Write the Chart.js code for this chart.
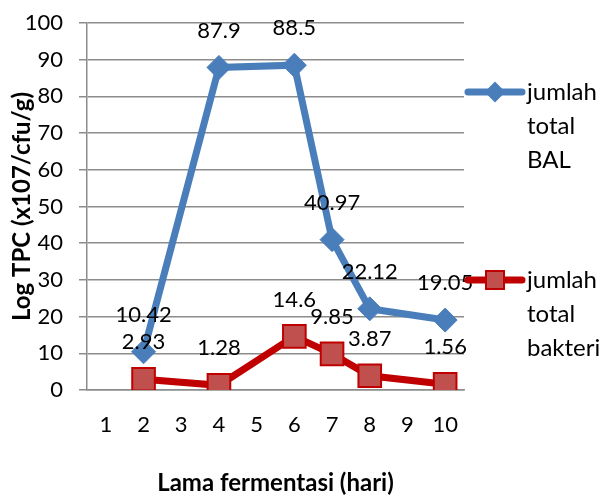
<!DOCTYPE html>
<html>
<head>
<meta charset="utf-8">
<script src="https://cdn.jsdelivr.net/npm/chart.js@4/dist/chart.umd.min.js"></script>
<style>
  html, body { margin: 0; padding: 0; background: #fff; }
  #wrap { width: 605px; height: 498px; }
</style>
</head>
<body>
<div id="wrap"><canvas id="tpcChart" width="605" height="498"></canvas></div>
<script>
// data
const days = ['1', '2', '3', '4', '5', '6', '7', '8', '9', '10'];
const totalBAL = [null, 10.42, null, 87.9, null, 88.5, 40.97, 22.12, null, 19.05];
const totalBakteri = [null, 2.93, null, 1.28, null, 14.6, 9.85, 3.87, null, 1.56];
const seriesNames = [['jumlah', 'total', 'BAL'], ['jumlah', 'total', 'bakteri']];

const FONT = 'Lato, "Open Sans", sans-serif';
const BLUE = '#4a7ebb';
const RED = '#c00000';
const RED_FILL = '#c0504d';
const GRID = '#8c8c8c';

// value labels above each point
const valueLabels = {
  id: 'valueLabels',
  afterDatasetsDraw(chart) {
    const c = chart.ctx;
    c.save();
    c.font = '22px ' + FONT;
    c.fillStyle = '#000';
    c.textAlign = 'center';
    c.textBaseline = 'middle';
    chart.data.datasets.forEach((ds, i) => {
      chart.getDatasetMeta(i).data.forEach((pt, j) => {
        if (ds.data[j] == null) return;
        c.fillText(String(ds.data[j]), pt.x, pt.y - 37);
      });
    });
    c.restore();
  }
};

// legend on the right, text wrapped like the original
const sideLegend = {
  id: 'sideLegend',
  afterDraw(chart) {
    const c = chart.ctx;
    const rows = [92, 280];
    c.save();
    chart.data.datasets.forEach((ds, i) => {
      const y = rows[i];
      c.strokeStyle = ds.borderColor;
      c.lineWidth = 7;
      c.lineCap = 'round';
      c.beginPath();
      c.moveTo(468, y);
      c.lineTo(522, y);
      c.stroke();
      c.fillStyle = ds.pointBackgroundColor;
      c.strokeStyle = ds.pointBorderColor;
      c.lineWidth = 2;
      c.beginPath();
      if (i === 0) {
        c.moveTo(495, y - 9); c.lineTo(504, y); c.lineTo(495, y + 9); c.lineTo(486, y);
        c.closePath();
      } else {
        c.rect(486, y - 9, 18, 18);
      }
      c.fill();
      c.stroke();
      c.fillStyle = '#000';
      c.font = '24px ' + FONT;
      c.textBaseline = 'middle';
      seriesNames[i].forEach((t, k) => c.fillText(t, 527, y + k * 34));
    });
    c.restore();
  }
};

new Chart(document.getElementById('tpcChart'), {
  type: 'line',
  data: {
    labels: days,
    datasets: [{
      label: seriesNames[0].join(' '),
      data: totalBAL,
      borderColor: BLUE,
      borderWidth: 7,
      pointStyle: 'rectRot',
      pointRadius: 12,
      pointBackgroundColor: BLUE,
      pointBorderColor: BLUE,
      pointBorderWidth: 1,
      spanGaps: true,
      tension: 0
    }, {
      label: seriesNames[1].join(' '),
      data: totalBakteri,
      borderColor: RED,
      borderWidth: 7,
      pointStyle: 'rect',
      pointRadius: 16,
      pointBackgroundColor: RED_FILL,
      pointBorderColor: RED,
      pointBorderWidth: 2,
      spanGaps: true,
      tension: 0
    }]
  },
  options: {
    responsive: false,
    animation: false,
    layout: { padding: { top: 23, right: 141, left: 0, bottom: 0 } },
    plugins: { legend: { display: false }, tooltip: { enabled: false } },
    scales: {
      x: {
        offset: true,
        grid: { display: false, drawTicks: false },
        border: { display: true, color: GRID, width: 1.5 },
        ticks: { color: '#000', font: { family: FONT, size: 22 }, padding: 22 },
        title: {
          display: true, text: 'Lama fermentasi (hari)', color: '#000',
          font: { family: FONT, size: 24, weight: 'bold' }, padding: { top: 0, bottom: 0 }
        },
        afterFit: (s) => { s.height = 108; }
      },
      y: {
        min: 0, max: 100,
        // small lineHeight so the wide label gap does not push the plot down
        ticks: { stepSize: 10, color: '#000', font: { family: FONT, size: 22, lineHeight: 0.5 }, padding: 16 },
        grid: { color: GRID, lineWidth: 1.5, tickLength: 8 },
        border: { display: true, color: GRID, width: 1.5 },
        title: {
          display: true, text: 'Log TPC (x107/cfu/g)', color: '#000',
          font: { family: FONT, size: 24, weight: 'bold' }, padding: { top: 8, bottom: 0 }
        },
        afterFit: (s) => { s.width = 87; }
      }
    }
  },
  plugins: [valueLabels, sideLegend]
});
</script>
</body>
</html>
